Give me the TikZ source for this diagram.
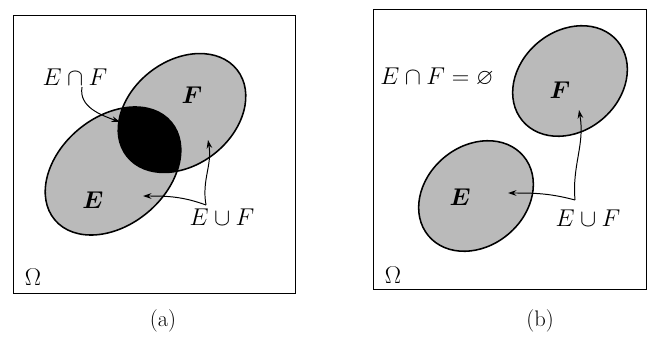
\documentclass[tikz,border=0pt]{standalone}
\usepackage{amsmath,amssymb}
\usetikzlibrary{arrows.meta}

\begin{document}
\begin{tikzpicture}[x=0.025cm, y=0.025cm,
    frame/.style={draw, line width=0.7pt},
    setfill/.style={fill=black!27},
    setline/.style={draw, line width=1.1pt},
    lbl/.style={font=\fontsize{16}{19}\selectfont, inner sep=1pt},
    arr/.style={-{Stealth[length=6pt,width=4pt]}, line width=0.7pt}
]
\useasboundingbox (0,0) rectangle (649,343);

% (a) E and F overlap
\draw[frame] (13,50) rectangle (295,328);
\fill[setfill, rotate around={40:(113,172)}] (113,172) ellipse [x radius=76, y radius=54];
\fill[setfill, rotate around={38:(182,230)}] (182,230) ellipse [x radius=70, y radius=52];
\begin{scope}
  \clip[rotate around={40:(113,172)}] (113,172) ellipse [x radius=76, y radius=54];
  \fill[black, rotate around={38:(182,230)}] (182,230) ellipse [x radius=70, y radius=52];
\end{scope}
\draw[setline, rotate around={40:(113,172)}] (113,172) ellipse [x radius=76, y radius=54];
\draw[setline, rotate around={38:(182,230)}] (182,230) ellipse [x radius=70, y radius=52];

\node[lbl] (capA) at (75,266) {$E\cap F$};
\node[lbl] (fA) at (192,248) {$\boldsymbol{F}$};
\node[lbl] (eA) at (93,143) {$\boldsymbol{E}$};
\node[lbl] (uA) at (222,126) {$E\cup F$};
\node[lbl] (omA) at (33,66) {$\Omega$};
\node[lbl] (subA) at (163,22) {(a)};

\coordinate (capAend) at (120,221);
\coordinate (uAfrom) at (206,138);
\coordinate (uAtoF) at (208,203);
\coordinate (uAtoE) at (143,147);
\draw[arr] ([xshift=5]capA.south) to[out=-100,in=160] (capAend);
\draw[arr] (uAfrom) to[out=100,in=-80] (uAtoF);
\draw[arr] (uAfrom) to[out=160,in=0] (uAtoE);

% (b) E and F disjoint
\draw[frame] (373,54) rectangle (646,334);
\fill[setfill, rotate around={40:(570,262)}] (570,262) ellipse [x radius=62, y radius=50];
\fill[setfill, rotate around={40:(476,147)}] (476,147) ellipse [x radius=62, y radius=50];
\draw[setline, rotate around={40:(570,262)}] (570,262) ellipse [x radius=62, y radius=50];
\draw[setline, rotate around={40:(476,147)}] (476,147) ellipse [x radius=62, y radius=50];

\node[lbl] (capB) at (437,266) {$E\cap F=\varnothing$};
\node[lbl] (fB) at (560,253) {$\boldsymbol{F}$};
\node[lbl] (eB) at (460,146) {$\boldsymbol{E}$};
\node[lbl] (uB) at (588,125) {$E\cup F$};
\node[lbl] (omB) at (393,68) {$\Omega$};
\node[lbl] (subB) at (540,22) {(b)};

\coordinate (uBfrom) at (575,143);
\coordinate (uBtoF) at (579,233);
\coordinate (uBtoE) at (508,150);
\draw[arr] (uBfrom) to[out=95,in=-80] (uBtoF);
\draw[arr] (uBfrom) to[out=165,in=0] (uBtoE);
\end{tikzpicture}
\end{document}
